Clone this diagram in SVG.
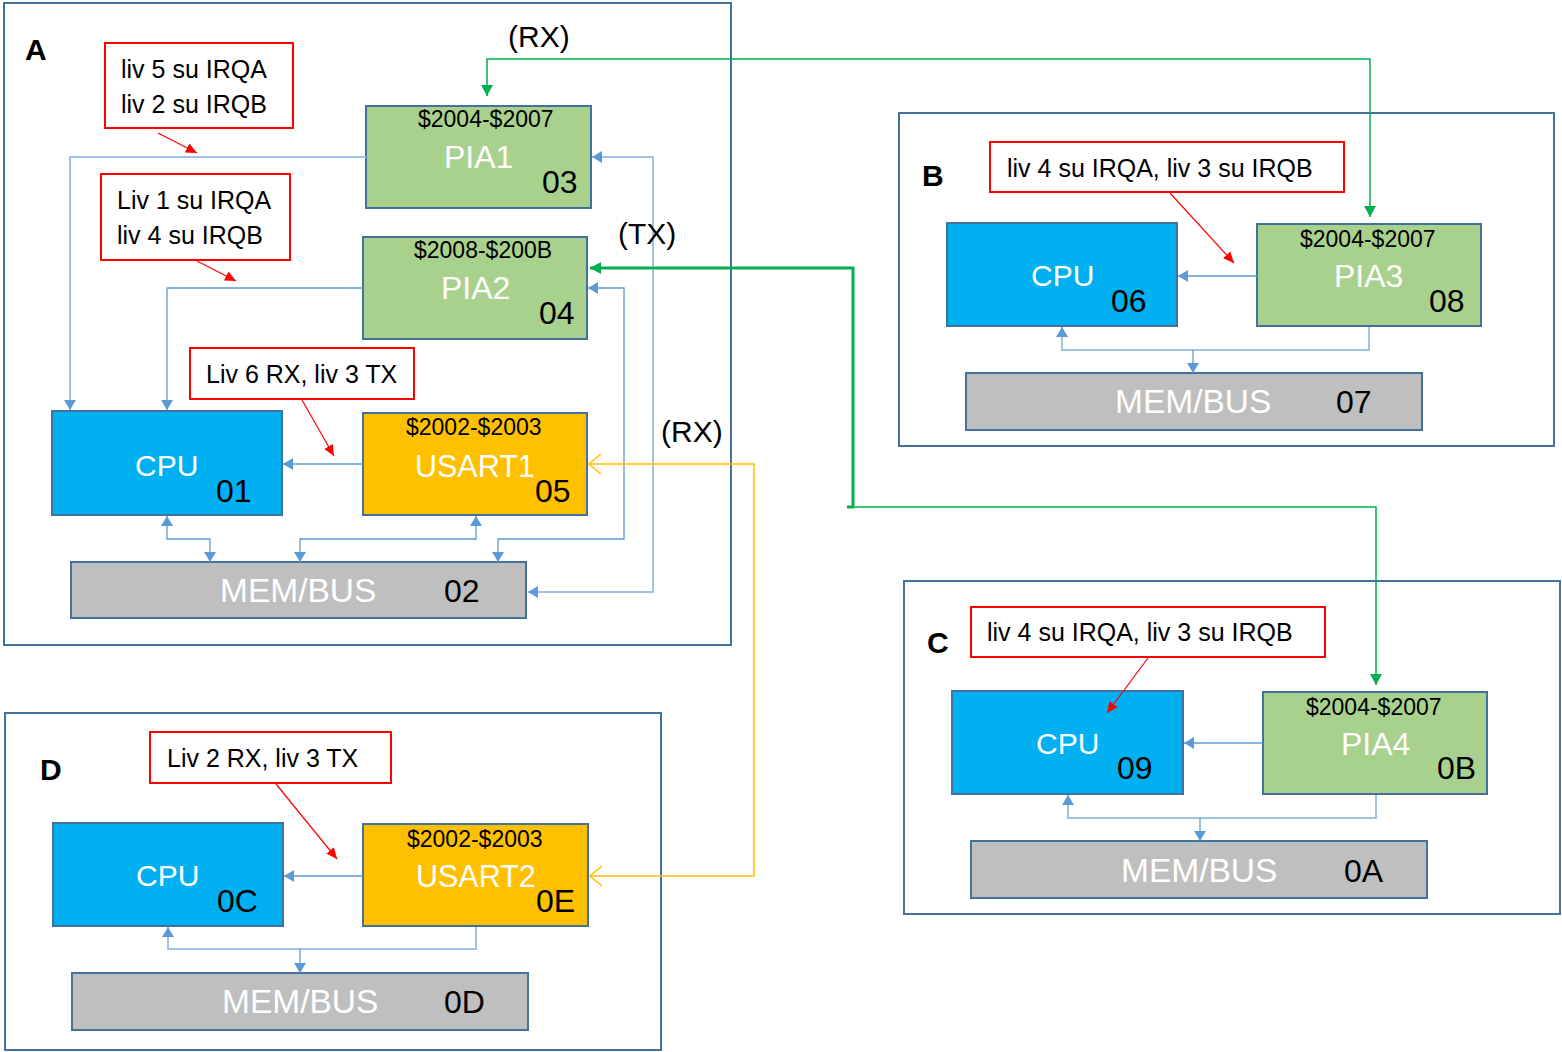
<svg xmlns="http://www.w3.org/2000/svg" width="1562" height="1052" viewBox="0 0 1562 1052">
<style>
text{font-family:"Liberation Sans",Arial,sans-serif;}
.frame{fill:#fff;stroke:#41719C;stroke-width:2;}
.note{fill:#fff;stroke:#FF0000;stroke-width:2;}
.cpu{fill:#00B0F0;stroke:#41719C;stroke-width:2;}
.pia{fill:#A9D18E;stroke:#41719C;stroke-width:2;}
.usart{fill:#FFC000;stroke:#41719C;stroke-width:2;}
.mem{fill:#BFBFBF;stroke:#41719C;stroke-width:2;}
.lt{font-size:25px;fill:#000;}
.grp{font-size:30px;font-weight:bold;fill:#000;}
.addr{font-size:23px;fill:#000;}
.big{font-size:32px;fill:#fff;}
.num{font-size:32px;fill:#000;}
.sig{font-size:30px;fill:#000;}
.c{fill:none;stroke:#5B9BD5;stroke-width:1.3;}
.cl{fill:none;stroke:#9DC3E6;stroke-width:2;}
.r{fill:none;stroke:#FF0000;stroke-width:1.2;}
.g{fill:none;stroke:#00B050;stroke-width:1.5;}
.gt{fill:none;stroke:#00B050;stroke-width:3;}
.y{fill:none;stroke:#FFC000;stroke-width:1.5;}
</style>
<defs>
<marker id="ab" markerUnits="userSpaceOnUse" markerWidth="12" markerHeight="14" refX="10" refY="6" orient="auto-start-reverse" viewBox="0 0 12 12"><path d="M0,0 L10,6 L0,12 Z" fill="#5B9BD5"/></marker>
<marker id="ar" markerUnits="userSpaceOnUse" markerWidth="12" markerHeight="12" refX="11" refY="5" orient="auto" viewBox="0 0 12 10"><path d="M0,0 L11,5 L0,10 Z" fill="#FF0000"/></marker>
<marker id="ag" markerUnits="userSpaceOnUse" markerWidth="12" markerHeight="14" refX="11" refY="6" orient="auto-start-reverse" viewBox="0 0 12 12"><path d="M0,0 L11,6 L0,12 Z" fill="#00B050"/></marker>
<marker id="ay" markerUnits="userSpaceOnUse" markerWidth="14" markerHeight="22" refX="13" refY="11" orient="auto-start-reverse" viewBox="0 0 14 22"><path d="M1,1 L13,11 L1,21" fill="none" stroke="#FFC000" stroke-width="1.5"/></marker>
</defs>

<g id="frame-A"><rect class="frame" x="4" y="3" width="727" height="642"/><text class="grp" x="25" y="60">A</text></g>
<g id="frame-B"><rect class="frame" x="899" y="113" width="655" height="333"/><text class="grp" x="922" y="186">B</text></g>
<g id="frame-C"><rect class="frame" x="904" y="581" width="656" height="333"/><text class="grp" x="927" y="653">C</text></g>
<g id="frame-D"><rect class="frame" x="5" y="713" width="656" height="337"/><text class="grp" x="40" y="780">D</text></g>

<g id="note-1"><rect class="note" x="105" y="43" width="188" height="85"/><text class="lt" x="121" y="78">liv 5 su IRQA</text><text class="lt" x="121" y="113">liv 2 su IRQB</text></g>
<g id="note-2"><rect class="note" x="101" y="174" width="189" height="86"/><text class="lt" x="117" y="209">Liv 1 su IRQA</text><text class="lt" x="117" y="244">liv 4 su IRQB</text></g>
<g id="note-3"><rect class="note" x="190" y="348" width="224" height="51"/><text class="lt" x="206" y="383">Liv 6 RX, liv 3 TX</text></g>
<g id="note-B"><rect class="note" x="990" y="142" width="354" height="50"/><text class="lt" x="1007" y="177">liv 4 su IRQA, liv 3 su IRQB</text></g>
<g id="note-C"><rect class="note" x="971" y="607" width="354" height="50"/><text class="lt" x="987" y="641">liv 4 su IRQA, liv 3 su IRQB</text></g>
<g id="note-D"><rect class="note" x="150" y="732" width="241" height="51"/><text class="lt" x="167" y="767">Liv 2 RX, liv 3 TX</text></g>

<g id="PIA1"><rect class="pia" x="366" y="106" width="225" height="102"/><text class="addr" x="418" y="127">$2004-$2007</text><text class="big" x="444" y="168">PIA1</text><text class="num" x="542" y="193">03</text></g>
<g id="PIA2"><rect class="pia" x="363" y="237" width="224" height="102"/><text class="addr" x="414" y="258">$2008-$200B</text><text class="big" x="441" y="299">PIA2</text><text class="num" x="539" y="324">04</text></g>
<g id="USART1"><rect class="usart" x="363" y="413" width="224" height="102"/><text class="addr" x="406" y="435">$2002-$2003</text><text class="big" x="415" y="477" style="font-size:30.5px">USART1</text><text class="num" x="535" y="502">05</text></g>
<g id="CPU01"><rect class="cpu" x="52" y="411" width="230" height="104"/><text class="big" x="135" y="476" style="font-size:30px">CPU</text><text class="num" x="216" y="502">01</text></g>
<g id="MEM02"><rect class="mem" x="71" y="562" width="455" height="56"/><text class="big" x="220" y="602" style="font-size:33.5px">MEM/BUS</text><text class="num" x="444" y="602">02</text></g>

<g id="CPU06"><rect class="cpu" x="947" y="223" width="230" height="103"/><text class="big" x="1031" y="286" style="font-size:30px">CPU</text><text class="num" x="1111" y="312">06</text></g>
<g id="PIA3"><rect class="pia" x="1257" y="224" width="224" height="102"/><text class="addr" x="1300" y="247">$2004-$2007</text><text class="big" x="1334" y="287">PIA3</text><text class="num" x="1429" y="312">08</text></g>
<g id="MEM07"><rect class="mem" x="966" y="373" width="456" height="57"/><text class="big" x="1115" y="413" style="font-size:33.5px">MEM/BUS</text><text class="num" x="1336" y="413">07</text></g>

<g id="CPU09"><rect class="cpu" x="952" y="691" width="231" height="103"/><text class="big" x="1036" y="754" style="font-size:30px">CPU</text><text class="num" x="1117" y="779">09</text></g>
<g id="PIA4"><rect class="pia" x="1263" y="692" width="224" height="102"/><text class="addr" x="1306" y="715">$2004-$2007</text><text class="big" x="1341" y="755">PIA4</text><text class="num" x="1437" y="779">0B</text></g>
<g id="MEM0A"><rect class="mem" x="971" y="841" width="456" height="57"/><text class="big" x="1121" y="882" style="font-size:33.5px">MEM/BUS</text><text class="num" x="1344" y="882">0A</text></g>

<g id="CPU0C"><rect class="cpu" x="53" y="823" width="230" height="103"/><text class="big" x="136" y="886" style="font-size:30px">CPU</text><text class="num" x="217" y="912">0C</text></g>
<g id="USART2"><rect class="usart" x="363" y="824" width="225" height="102"/><text class="addr" x="407" y="847">$2002-$2003</text><text class="big" x="416" y="887" style="font-size:30.5px">USART2</text><text class="num" x="536" y="912">0E</text></g>
<g id="MEM0D"><rect class="mem" x="72" y="973" width="456" height="57"/><text class="big" x="222" y="1013" style="font-size:33.5px">MEM/BUS</text><text class="num" x="444" y="1013">0D</text></g>

<g id="connectors">
<path class="cl" d="M366,157 H70 V410" marker-end="url(#ab)"/>
<path class="c" d="M363,288 H167 V410" marker-end="url(#ab)"/>
<path class="c" d="M363,464 H283" marker-end="url(#ab)"/>
<path class="c" d="M167,516 V539 H210 V562" marker-start="url(#ab)" marker-end="url(#ab)"/>
<path class="c" d="M476,516 V539 H300 V562" marker-start="url(#ab)" marker-end="url(#ab)"/>
<path class="c" d="M588,288 H624 V539 H498 V562" marker-start="url(#ab)" marker-end="url(#ab)"/>
<path class="cl" d="M592,157 H653 V592 H528" marker-start="url(#ab)" marker-end="url(#ab)"/>
<path class="c" d="M1257,276 H1178" marker-end="url(#ab)"/>
<path class="cl" d="M1369,327 V350 H1062 V327" marker-end="url(#ab)"/>
<path class="c" d="M1193,350 V373" marker-end="url(#ab)"/>
<path class="c" d="M1263,743 H1184" marker-end="url(#ab)"/>
<path class="cl" d="M1376,795 V818 H1068 V795" marker-end="url(#ab)"/>
<path class="c" d="M1200,818 V841" marker-end="url(#ab)"/>
<path class="c" d="M363,876 H284" marker-end="url(#ab)"/>
<path class="cl" d="M476,927 V949 H168 V927" marker-end="url(#ab)"/>
<path class="c" d="M300,949 V973" marker-end="url(#ab)"/>
<path class="r" d="M158,133 L197,153" marker-end="url(#ar)"/>
<path class="r" d="M197,261 L236,281" marker-end="url(#ar)"/>
<path class="r" d="M302,400 L334,456" marker-end="url(#ar)"/>
<path class="r" d="M1170,193 L1234,263" marker-end="url(#ar)"/>
<path class="r" d="M1148,658 L1107,713" marker-end="url(#ar)"/>
<path class="r" d="M276,784 L337,859" marker-end="url(#ar)"/>
<path class="g" d="M487,96 V59 H1370 V217" marker-start="url(#ag)" marker-end="url(#ag)"/>
<path class="gt" d="M590,268 H853 V507 H847" marker-start="url(#ag)"/>
<path class="g" d="M853,507 H1376 V685" marker-end="url(#ag)"/>
<path class="y" d="M589,464 H754 V876 H590" marker-start="url(#ay)" marker-end="url(#ay)"/>
</g>

<g id="labels">
<text class="sig" x="508" y="47">(RX)</text>
<text class="sig" x="618" y="244">(TX)</text>
<text class="sig" x="661" y="442">(RX)</text>
</g>
</svg>
